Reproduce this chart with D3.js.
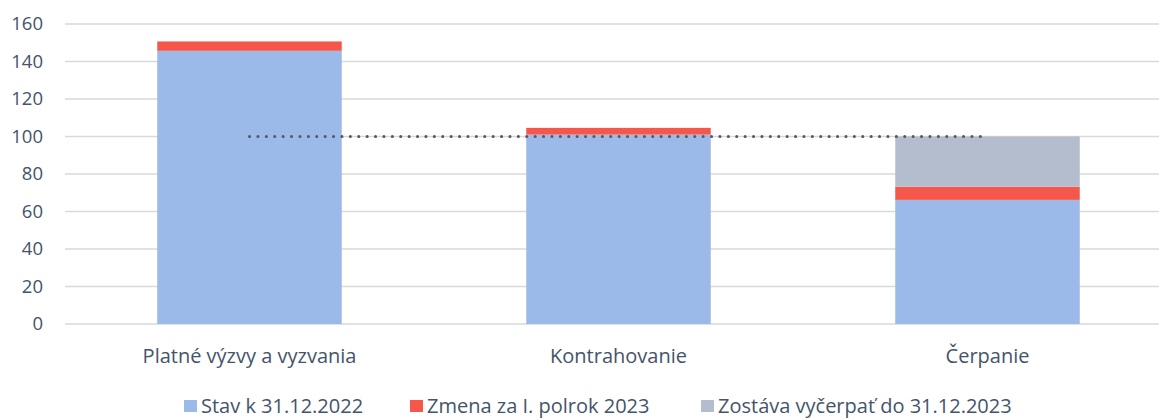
<!DOCTYPE html>
<html>
<head>
<meta charset="utf-8">
<script src="https://d3js.org/d3.v7.min.js"></script>
<style>
    body { margin: 0; background: #fff; }
    text { font-family: "Open Sans", sans-serif; fill: #44546a; }
</style>
</head>
<body>
<svg id="chart"></svg>
<script>
    // data
    var categories = ["Platné výzvy a vyzvania", "Kontrahovanie", "Čerpanie"];
    var stav2022 = [145.7, 101.0, 66.2];
    var zmena2023 = [5.0, 3.6, 7.0];
    var zostava = [0, 0, 26.8];
    var target = [100, 100, 100];
    var yTicks = [0, 20, 40, 60, 80, 100, 120, 140, 160];
    var seriesNames = ["Stav k 31.12.2022", "Zmena za I. polrok 2023", "Zostáva vyčerpať do 31.12.2023"];
    var seriesColors = ["#9bb9e9", "#f5584a", "#b3bdcd"];

    var screen = {width: 1159, height: 419};
    var margins = {left: 65, right: -13, top: 24, bottom: 95};

    var svg = d3.select("#chart")
        .attr("width", screen.width)
        .attr("height", screen.height);

    var x = d3.scaleBand()
        .domain(categories)
        .range([margins.left, screen.width - margins.right])
        .paddingInner(0.5)
        .paddingOuter(0.25);

    var y = d3.scaleLinear()
        .domain([0, 160])
        .range([screen.height - margins.bottom, margins.top]);

    // grid
    svg.append("g")
        .selectAll("line")
        .data(yTicks)
        .enter()
        .append("line")
        .attr("x1", margins.left)
        .attr("x2", screen.width)
        .attr("y1", function(d){ return y(d); })
        .attr("y2", function(d){ return y(d); })
        .attr("stroke", "#d9d9d9")
        .attr("stroke-width", 1.5);

    // y axis labels
    var yAxis = d3.axisLeft(y).tickValues(yTicks).tickSize(0).tickPadding(22);
    var gy = svg.append("g")
        .attr("transform", "translate(" + margins.left + ",0)")
        .call(yAxis);
    gy.select(".domain").remove();
    gy.selectAll("text")
        .attr("font-size", 18.5)
        .style("font-family", "'Open Sans', sans-serif")
        .attr("fill", "#44546a");

    // stacked bars
    var rows = categories.map(function(c, i){
        return {cat: c, s0: stav2022[i], s1: zmena2023[i], s2: zostava[i]};
    });
    var stack = d3.stack().keys(["s0", "s1", "s2"]);
    var layers = stack(rows);

    svg.append("g")
        .selectAll("g")
        .data(layers)
        .enter()
        .append("g")
        .attr("fill", function(d, i){ return seriesColors[i]; })
        .selectAll("rect")
        .data(function(d){ return d; })
        .enter()
        .append("rect")
        .attr("x", function(d){ return x(d.data.cat); })
        .attr("width", x.bandwidth())
        .attr("y", function(d){ return y(d[1]); })
        .attr("height", function(d){ return y(d[0]) - y(d[1]); });

    // dotted target line
    var line = d3.line()
        .x(function(d, i){ return x(categories[i]) + x.bandwidth() / 2; })
        .y(function(d){ return y(d); });

    svg.append("path")
        .datum(target)
        .attr("d", line)
        .attr("fill", "none")
        .attr("stroke", "#595959")
        .attr("stroke-width", 3)
        .attr("stroke-linecap", "round")
        .attr("stroke-dasharray", "0.1 8.3");

    // category labels
    var xAxis = d3.axisBottom(x).tickSize(0).tickPadding(25);
    var gx = svg.append("g")
        .attr("transform", "translate(0," + y(0) + ")")
        .call(xAxis);
    gx.select(".domain").remove();
    gx.selectAll("text")
        .attr("font-size", 20)
        .style("font-family", "'Open Sans', sans-serif")
        .attr("fill", "#44546a");

    // legend
    var legendX = [184, 410, 701];
    var legend = svg.append("g");
    seriesNames.forEach(function(name, i){
        legend.append("rect")
            .attr("x", legendX[i])
            .attr("y", 400)
            .attr("width", 13)
            .attr("height", 12)
            .attr("fill", seriesColors[i]);
        legend.append("text")
            .attr("x", legendX[i] + 17)
            .attr("y", 413)
            .attr("font-size", 20)
            .text(name);
    });
</script>
</body>
</html>
